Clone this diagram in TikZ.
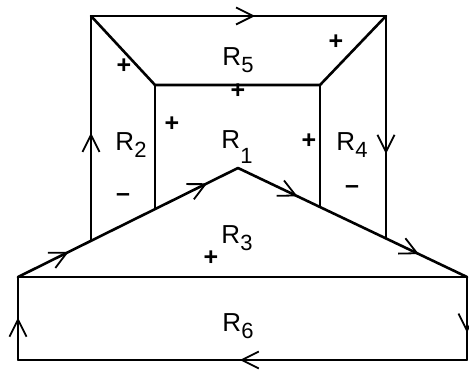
\documentclass[tikz,border=0pt]{standalone}
\usepackage{fontspec}
\setmainfont{Liberation Sans}
\usetikzlibrary{arrows.meta,decorations.markings}
\newcommand{\rlab}[3]{R\raisebox{#3}{\fontsize{22}{22}\selectfont #2}}
\tikzset{
  edge/.style={line width=2.6pt, line cap=round, line join=round},
  thinedge/.style={line width=1.8pt, line cap=round},
  barb/.tip={Straight Barb[length=17pt,width=17pt,line width=1.8pt]},
  marr/.style={postaction={decorate},decoration={markings,
     mark=at position #1 with {\arrow{barb}}}},
  marrtwo/.style 2 args={postaction={decorate},decoration={markings,
     mark=at position #1 with {\arrow{barb}},
     mark=at position #2 with {\arrow{barb}}}},
  lbl/.style={font=\fontsize{26}{26}\selectfont, inner sep=0pt},
  sgn/.style={font=\fontsize{25}{25}\selectfont\bfseries, inner sep=0pt}
}
\begin{document}
\begin{tikzpicture}[x=1pt,y=-1pt]
\useasboundingbox (0,0) rectangle (469,371);
\coordinate (A) at (91,16);
\coordinate (B) at (386,16);
\coordinate (C) at (155,85);
\coordinate (D) at (320,85);
\coordinate (E) at (91,240.8);
\coordinate (F) at (386,238.4);
\coordinate (G) at (155,209.1);
\coordinate (H) at (320,207.0);
\coordinate (T) at (238,168);
\coordinate (L) at (18,277);
\coordinate (Rb) at (467,277);
\coordinate (LL) at (18,360);
\coordinate (RR) at (467,360);
% upper structure
\draw[edge, marr=0.556] (A) -- (B);
\draw[edge] (A) -- (C) -- (D) -- (B);
\draw[thinedge, marr=0.48] (E) -- (A);
\draw[thinedge, marr=0.62] (B) -- (F);
\draw[thinedge] (C) -- (G);
\draw[thinedge] (D) -- (H);
% triangle
\draw[edge, marrtwo={0.23}{0.86}] (L) -- (T);
\draw[edge, marrtwo={0.26}{0.79}] (T) -- (Rb);
% lower rectangle
\draw[edge] (L) -- (Rb);
\draw[thinedge, marr=0.67] (Rb) -- (RR);
\draw[thinedge, marr=0.506] (RR) -- (LL);
\draw[thinedge, marr=0.51] (LL) -- (L);
% labels
\node[lbl] (r5) at (238,60) {\rlab{R}{5}{-7pt}};
\node[lbl] (r2) at (131,145) {\rlab{R}{2}{-7pt}};
\node[lbl] (r1) at (237,147) {\rlab{R}{1}{-15pt}};
\node[lbl] (r4) at (352,145) {\rlab{R}{4}{-7pt}};
\node[lbl] (r3) at (237,238) {\rlab{R}{3}{-7pt}};
\node[lbl] (r6) at (238,326) {\rlab{R}{6}{-7pt}};
% signs
\node[sgn] (p1) at (124,66) {+};
\node[sgn] (p2) at (336,42) {+};
\node[sgn] (p3) at (238,91) {+};
\node[sgn] (p4) at (172,124) {+};
\node[sgn] (p5) at (309,141) {+};
\node[sgn] (p6) at (211,258) {+};
\node[sgn] (m1) at (123,198) {–};
\node[sgn] (m2) at (352,190) {–};
\end{tikzpicture}
\end{document}
